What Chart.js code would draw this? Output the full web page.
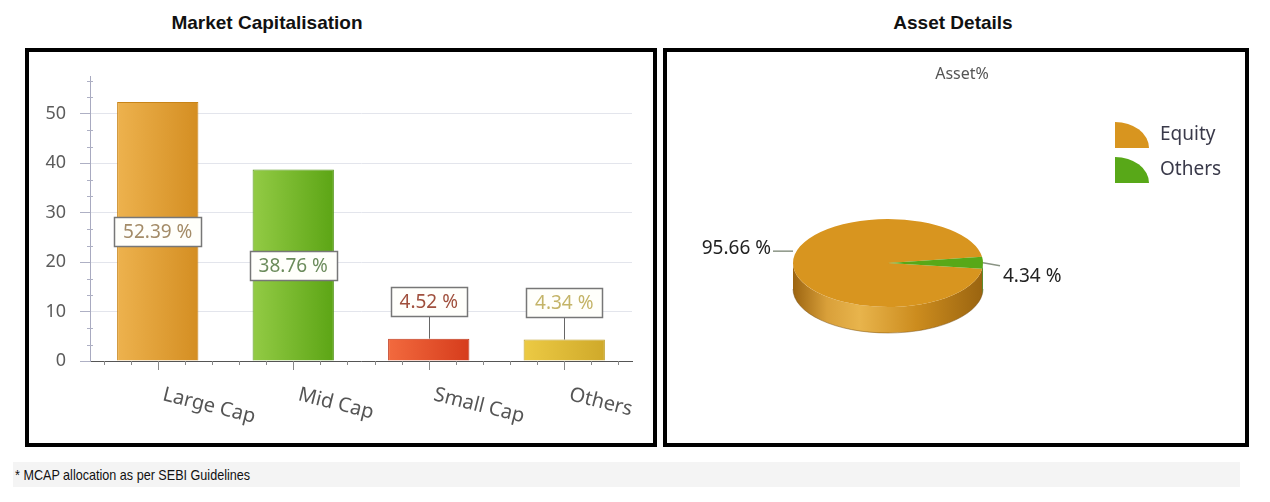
<!DOCTYPE html>
<html>
<head>
<meta charset="utf-8">
<script src="https://cdn.jsdelivr.net/npm/chart.js@4.4.1/dist/chart.umd.min.js"></script>
<style>
    body { margin: 0; width: 1270px; height: 502px; background: #fff; position: relative; overflow: hidden; font-family: "Liberation Sans", Arial, sans-serif; }
    .head { position: absolute; top: 12px; font-weight: bold; font-size: 19px; line-height: 22px; color: #111; text-align: center; }
    .box { position: absolute; top: 48px; height: 391px; border: 4px solid #000; background: #fff; }
    .box canvas { display: block; }
    .note { position: absolute; left: 13px; top: 462px; width: 1227px; height: 25px; background: #f4f4f4; font-size: 15px; line-height: 25px; color: #111; padding-left: 2px; box-sizing: border-box; }
    .note span { display: inline-block; transform: scaleX(0.84); transform-origin: left center; white-space: nowrap; }
</style>
</head>
<body>
<div class="head" style="left:120px; width:294px;">Market Capitalisation</div>
<div class="head" style="left:803px; width:300px;">Asset Details</div>
<div class="box" style="left:25px; width:624px;"><canvas id="capChart" width="624" height="391"></canvas></div>
<div class="box" style="left:663px; width:578px;"><canvas id="assetChart" width="578" height="391"></canvas></div>
<div class="note"><span>* MCAP allocation as per SEBI Guidelines</span></div>

<script>
// chart values
var capLabels = ['Large Cap', 'Mid Cap', 'Small Cap', 'Others'];
var capValues = [52.39, 38.76, 4.52, 4.34];
var capTicks = [0, 10, 20, 30, 40, 50];
var assetLabels = ['Equity', 'Others'];
var assetValues = [95.66, 4.34];

// styles
var capColors = [['#edb24e', '#d48e22'], ['#93cb45', '#5ca515'], ['#f26a3e', '#d63c1c'], ['#ecca44', '#cfa92a']];
var capBorders = ['#c88418', '#55961a', '#c0381c', '#c0a028'];
var capTextColors = ['#a48c68', '#6c8c5c', '#a0503c', '#c4b468'];
var assetColors = ['#d8951f', '#58a818'];
var assetSide = [
    [[0, '#9c6410'], [0.18, '#d9a03a'], [0.35, '#e8b44c'], [0.65, '#cc8c1e'], [1, '#9a6410']],
    [[0, '#3f7a10'], [1, '#3f7a10']]
];
var PIE = { cx: 221, cy: 211, rx: 95, ry: 44, depth: 26 };

// horizontal gradient for each bar
function barFill(c) {
    var chart = c.chart, cols = capColors[c.dataIndex];
    if (!chart.chartArea || !chart.scales.x) return cols[1];
    var x = chart.scales.x;
    var half = (x.getPixelForValue(1) - x.getPixelForValue(0)) * 0.6 / 2;
    var mid = x.getPixelForValue(c.dataIndex);
    var g = chart.ctx.createLinearGradient(mid - half, 0, mid + half, 0);
    g.addColorStop(0, cols[0]);
    g.addColorStop(1, cols[1]);
    return g;
}

var barExtras = {
    id: 'barExtras',
    afterDraw: function(chart) {
        var ctx = chart.ctx, x = chart.scales.x, y = chart.scales.y;
        var step = x.getPixelForValue(1) - x.getPixelForValue(0);
        var base = y.getPixelForValue(0);
        ctx.save();
        ctx.lineWidth = 1;

        // minor ticks on y axis
        ctx.strokeStyle = '#aeb0c4';
        for (var i = 1; i * 10 / 3 < y.max; i++) {
            if (i % 3 === 0) continue;
            var py = Math.round(y.getPixelForValue(i * 10 / 3)) + 0.5;
            ctx.beginPath(); ctx.moveTo(y.right - 3, py); ctx.lineTo(y.right + 3, py); ctx.stroke();
        }

        // ticks on x axis
        ctx.strokeStyle = '#888';
        capLabels.forEach(function(l, i) {
            var cx = x.getPixelForValue(i);
            for (var k = -2; k <= 2; k++) {
                var px = Math.round(cx + k * step / 5) + 0.5;
                ctx.beginPath(); ctx.moveTo(px, base); ctx.lineTo(px, base + (k === 0 ? 9 : 4)); ctx.stroke();
            }
        });

        // slanted category labels
        ctx.font = '20px "Noto Sans"';
        ctx.fillStyle = '#555';
        ctx.textAlign = 'left';
        ctx.textBaseline = 'alphabetic';
        capLabels.forEach(function(l, i) {
            ctx.save();
            ctx.translate(x.getPixelForValue(i) + 4, base + 39);
            ctx.rotate(14 * Math.PI / 180);
            ctx.fillText(l, 0, 0);
            ctx.restore();
        });

        // value boxes
        var meta = chart.getDatasetMeta(0);
        ctx.font = '19px "Noto Sans"';
        ctx.textAlign = 'center';
        ctx.textBaseline = 'middle';
        capValues.forEach(function(v, i) {
            var bar = meta.data[i];
            var txt = v.toFixed(2) + ' %';
            var inside = v > 20;
            var cy = inside ? y.getPixelForValue(v / 2) : y.getPixelForValue(v + 7.5);
            var w = Math.round(ctx.measureText(txt).width + 18), h = 29;
            var bx = Math.round(bar.x - w / 2) + 0.5, by = Math.round(cy - h / 2) + 0.5;
            if (!inside) {
                ctx.strokeStyle = '#666';
                ctx.beginPath(); ctx.moveTo(Math.round(bar.x) + 0.5, bar.y); ctx.lineTo(Math.round(bar.x) + 0.5, by + h); ctx.stroke();
            }
            ctx.fillStyle = '#fffffb';
            ctx.fillRect(bx, by, w, h);
            ctx.strokeStyle = '#777';
            ctx.lineWidth = 1.5;
            ctx.strokeRect(bx, by, w, h);
            ctx.lineWidth = 1;
            ctx.fillStyle = capTextColors[i];
            ctx.fillText(txt, bar.x, cy + 1);
        });
        ctx.restore();
    }
};

new Chart(document.getElementById('capChart'), {
    type: 'bar',
    data: {
        labels: capLabels,
        datasets: [{
            data: capValues,
            backgroundColor: barFill,
            borderColor: capBorders,
            borderWidth: 1,
            barPercentage: 0.6,
            categoryPercentage: 1
        }]
    },
    options: {
        responsive: false,
        animation: false,
        layout: { padding: { top: 21, right: 21, left: 0, bottom: 0 } },
        plugins: { legend: { display: false }, tooltip: { enabled: false } },
        scales: {
            x: {
                grid: { display: false },
                ticks: { display: false },
                border: { color: '#555', width: 1 },
                afterFit: function(s) { s.height = 82; }
            },
            y: {
                min: 0,
                max: 57.5,
                afterBuildTicks: function(s) { s.ticks = capTicks.map(function(v) { return { value: v }; }); },
                afterFit: function(s) { s.width = 61; },
                grid: { color: '#e3e5ec', tickLength: 10, tickColor: '#aeb0c4' },
                border: { color: '#a8aac0' },
                ticks: { font: { family: 'Noto Sans', size: 18 }, color: '#5c5c5c', padding: 14 }
            }
        }
    },
    plugins: [barExtras]
});

// flat pie from chart.js, squashed into a disc with a side wall
var pie3d = {
    id: 'pie3d',
    beforeDatasetsDraw: function(chart) {
        var ctx = chart.ctx, arcs = chart.getDatasetMeta(0).data;
        var r = arcs[0].outerRadius;
        ctx.save();
        arcs.forEach(function(a, i) {
            [-2 * Math.PI, 0, 2 * Math.PI].forEach(function(off) {
                var lo = Math.max(a.startAngle + off, 0), hi = Math.min(a.endAngle + off, Math.PI);
                if (hi <= lo) return;
                var g = ctx.createLinearGradient(PIE.cx - PIE.rx, 0, PIE.cx + PIE.rx, 0);
                assetSide[i].forEach(function(s) { g.addColorStop(s[0], s[1]); });
                ctx.beginPath();
                ctx.ellipse(PIE.cx, PIE.cy, PIE.rx, PIE.ry, 0, lo, hi);
                ctx.ellipse(PIE.cx, PIE.cy + PIE.depth, PIE.rx, PIE.ry, 0, hi, lo, true);
                ctx.closePath();
                ctx.fillStyle = g;
                ctx.fill();
            });
        });
        ctx.strokeStyle = 'rgba(110,70,10,0.45)';
        ctx.beginPath();
        ctx.ellipse(PIE.cx, PIE.cy + PIE.depth, PIE.rx, PIE.ry, 0, 0, Math.PI);
        ctx.stroke();
        ctx.translate(PIE.cx, PIE.cy);
        ctx.scale(PIE.rx / r, PIE.ry / r);
        ctx.translate(-arcs[0].x, -arcs[0].y);
    },
    afterDatasetsDraw: function(chart) {
        var ctx = chart.ctx, arcs = chart.getDatasetMeta(0).data;
        ctx.restore();
        ctx.save();

        // slice labels with leader lines
        ctx.font = '19px "Noto Sans"';
        ctx.fillStyle = '#222';
        ctx.strokeStyle = '#8a9484';
        ctx.lineWidth = 1.5;
        ctx.textBaseline = 'middle';
        arcs.forEach(function(a, i) {
            var mid = (a.startAngle + a.endAngle) / 2;
            var ax = PIE.cx + PIE.rx * Math.cos(mid), ay = PIE.cy + PIE.ry * Math.sin(mid);
            var txt = assetValues[i].toFixed(2) + ' %';
            ctx.beginPath();
            if (Math.cos(mid) < 0) {
                ctx.moveTo(ax, ay - 12); ctx.lineTo(ax - 20, ay - 12); ctx.stroke();
                ctx.textAlign = 'right';
                ctx.fillText(txt, ax - 22, ay - 15);
            } else {
                ctx.moveTo(ax, ay); ctx.lineTo(ax + 17, ay + 3); ctx.stroke();
                ctx.textAlign = 'left';
                ctx.fillText(txt, ax + 20, ay + 14);
            }
        });

        // legend with quarter-pie markers
        ctx.textAlign = 'left';
        assetLabels.forEach(function(l, i) {
            var ix = 448, iy = 70 + i * 35, w = 34, h = 26;
            ctx.beginPath();
            ctx.moveTo(ix, iy + h);
            ctx.lineTo(ix, iy);
            ctx.ellipse(ix, iy + h, w, h, 0, -Math.PI / 2, 0);
            ctx.closePath();
            ctx.fillStyle = assetColors[i];
            ctx.fill();
            ctx.fillStyle = '#3a3a4a';
            ctx.fillText(l, 493, iy + 13);
        });
        ctx.restore();
    }
};

new Chart(document.getElementById('assetChart'), {
    type: 'pie',
    data: {
        labels: assetLabels,
        datasets: [{ data: assetValues, backgroundColor: assetColors, borderWidth: 0, clip: false }]
    },
    options: {
        responsive: false,
        animation: false,
        rotation: 97.6,
        layout: { padding: { left: 112, right: 100, top: 0, bottom: 108 } },
        plugins: {
            legend: { display: false },
            tooltip: { enabled: false },
            title: {
                display: true,
                text: 'Asset%',
                color: '#555',
                font: { family: 'Noto Sans', size: 16, weight: 'normal' },
                padding: { top: 13, bottom: 60 }
            }
        }
    },
    plugins: [pie3d]
});
</script>
</body>
</html>
